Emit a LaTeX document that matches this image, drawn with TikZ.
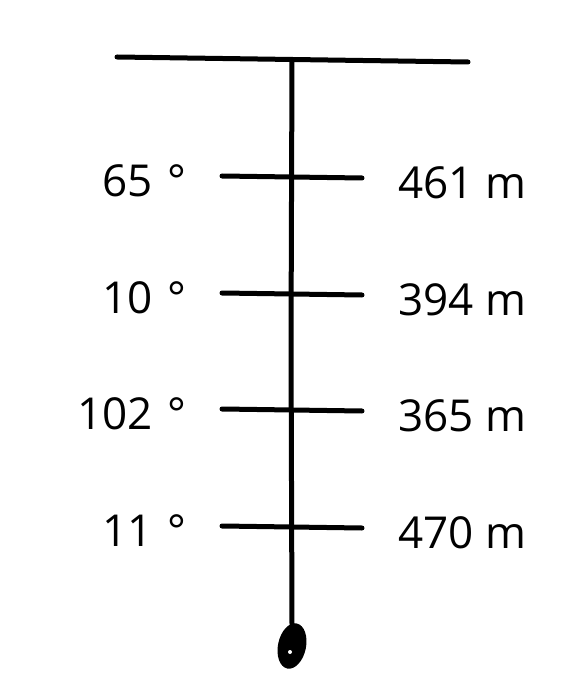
\documentclass[tikz,border=0pt]{standalone}
\usepackage{fontspec}
\setmainfont{Open Sans}
\usetikzlibrary{shapes.geometric}
\begin{document}
\begin{tikzpicture}[x=1pt,y=-1pt,
  rope/.style={line width=5pt,line cap=round,black},
  lab/.style={font=\fontsize{44}{46}\selectfont,inner sep=0pt}]
\useasboundingbox (0,0) rectangle (583,700);
\coordinate (tl) at (117,57);
\coordinate (tr) at (468,62);
\coordinate (top) at (292,60);
\coordinate (bot) at (292,625);
\draw[rope] (tl) -- (tr);
\draw[rope] (top) -- (291,340) -- (bot);
\foreach \y/\a/\d [count=\i] in {176/65/461,293/10/394,409/102/365,526/11/470}{
  \coordinate (l\i) at (222,\y);
  \coordinate (r\i) at (362,\y+2);
  \draw[rope] (l\i) -- (r\i);
  \node[lab,anchor=east] (a\i) at (187,\y+5) {\a\hspace{0.35em}°};
  \node[lab,anchor=west] (d\i) at (398,\y+7) {\d\ m};
}
\node[fill=black,ellipse,minimum width=28pt,minimum height=46pt,inner sep=0pt,rotate=-12] (knot) at (292,646) {};
\fill[white] (290,652) circle (2pt);
\end{tikzpicture}
\end{document}
